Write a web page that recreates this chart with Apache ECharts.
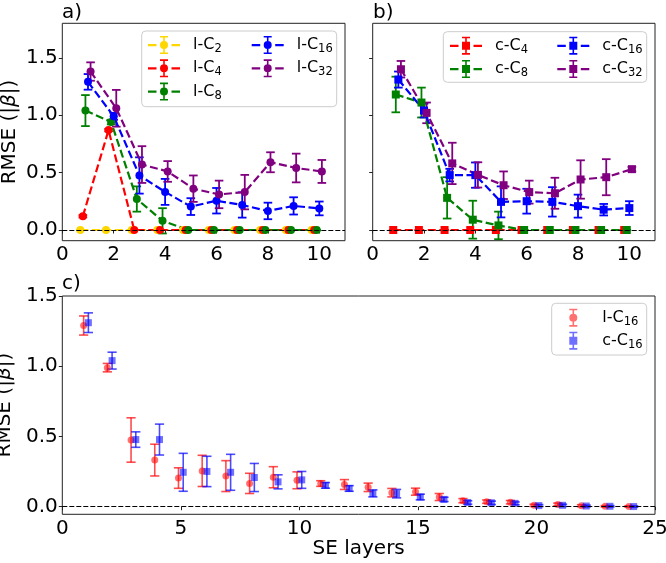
<!DOCTYPE html>
<html><head><meta charset="utf-8">
<script src="https://cdn.jsdelivr.net/npm/echarts@6/dist/echarts.min.js"></script>
<style>html,body{margin:0;padding:0;background:#fff}#c{width:666px;height:563px}</style>
</head><body><div id="c"></div>
<script>
// ---------- data ----------
const layers10 = [1, 2, 3, 4, 5, 6, 7, 8, 9, 10];
const layers24 = [1, 2, 3, 4, 5, 6, 7, 8, 9, 10, 11, 12, 13, 14, 15, 16, 17, 18, 19, 20, 21, 22, 23, 24];

const lC2    = [0, 0, 0, 0, 0, 0, 0, 0, 0, 0];
const lC2Err = [0, 0, 0, 0, 0, 0, 0, 0, 0, 0];
const lC4    = [0.12, 0.87, 0, 0, 0, 0, 0, 0, 0, 0];
const lC4Err = [0.01, 0.01, 0, 0, 0, 0, 0, 0, 0, 0];
const lC8    = [1.04, 0.94, 0.27, 0.08, 0, 0, 0, 0, 0, 0];
const lC8Err = [0.135, 0.02, 0.11, 0.11, 0, 0, 0, 0, 0, 0];
const lC16   = [1.29, 0.99, 0.475, 0.332, 0.204, 0.255, 0.218, 0.166, 0.21, 0.188, 0.165, 0.158, 0.138, 0.10, 0.107, 0.069, 0.043, 0.036, 0.032, 0.01, 0.016, 0.007, 0.003, 0.002];
const lC16Err= [0.068, 0.03, 0.158, 0.113, 0.073, 0.111, 0.11, 0.072, 0.075, 0.06, 0.02, 0.035, 0.03, 0.03, 0.025, 0.025, 0.015, 0.012, 0.012, 0.008, 0.01, 0.007, 0.005, 0.005];
const lC32   = [1.38, 1.06, 0.57, 0.51, 0.36, 0.31, 0.33, 0.59, 0.54, 0.51];
const lC32Err= [0.08, 0.16, 0.16, 0.09, 0.115, 0.12, 0.15, 0.087, 0.125, 0.1];

const cC4    = [0, 0, 0, 0, 0, 0, 0, 0, 0, 0];
const cC4Err = [0, 0, 0, 0, 0, 0, 0, 0, 0, 0];
const cC8    = [1.18, 1.11, 0.28, 0.09, 0.04, 0, 0, 0, 0, 0];
const cC8Err = [0.155, 0.13, 0.18, 0.165, 0.12, 0, 0, 0, 0, 0];
const cC16   = [1.31, 1.04, 0.478, 0.478, 0.245, 0.251, 0.245, 0.208, 0.177, 0.191, 0.152, 0.13, 0.095, 0.093, 0.069, 0.052, 0.03, 0.028, 0.024, 0.008, 0.01, 0.005, 0.003, 0.001];
const cC16Err= [0.07, 0.06, 0.055, 0.11, 0.135, 0.108, 0.128, 0.1, 0.05, 0.06, 0.02, 0.02, 0.025, 0.03, 0.02, 0.015, 0.012, 0.012, 0.01, 0.007, 0.008, 0.006, 0.005, 0.005];
const cC32   = [1.40, 1.02, 0.58, 0.48, 0.39, 0.33, 0.32, 0.44, 0.46, 0.53];
const cC32Err= [0.072, 0.09, 0.18, 0.11, 0.12, 0.1, 0.135, 0.167, 0.157, 0.02];

const xTicksTop = [0, 2, 4, 6, 8, 10];
const xTicksBottom = [0, 5, 10, 15, 20, 25];
const yTicks = [0, 0.5, 1.0, 1.5];

// ---------- helpers ----------
const FONT = 'DejaVu Sans';
function pts(xs, ys, es, off) { return xs.map((x, i) => [x + off, ys[i], es[i]]); }

function errRender(color, lw, capHalf) {
  return function (params, api) {
    const x = api.value(0), y = api.value(1), e = api.value(2);
    const hi = api.coord([x, y + e]), lo = api.coord([x, y - e]);
    const st = { stroke: color, lineWidth: lw, fill: null };
    return { type: 'group', children: [
      { type: 'line', shape: { x1: hi[0], y1: hi[1], x2: lo[0], y2: lo[1] }, style: st },
      { type: 'line', shape: { x1: hi[0] - capHalf, y1: hi[1], x2: hi[0] + capHalf, y2: hi[1] }, style: st },
      { type: 'line', shape: { x1: lo[0] - capHalf, y1: lo[1], x2: lo[0] + capHalf, y2: lo[1] }, style: st }
    ]};
  };
}

const corners = 'M0 0h0.01v0.01h-0.01Z M31.99 19.99h0.01v0.01h-0.01Z ';
const ebar = 'M15.2 1h1.6v18h-1.6Z M12 1h8v1.6h-8Z M12 17.4h8v1.6h-8Z ';
const dashes = 'M0 9h8.5v2.2h-8.5Z M23.5 9h8.5v2.2h-8.5Z ';
const circ = 'M12 10a4 4 0 1 1 8 0a4 4 0 1 1 -8 0Z ';
const sq = 'M12 6h8v8h-8Z ';
const iconLineCircle = 'path://' + corners + dashes + ebar + circ;
const iconLineSquare = 'path://' + corners + dashes + ebar + sq;
const iconCircle = 'path://' + corners + ebar + circ;
const iconSquare = 'path://' + corners + ebar + sq;

function legendFmt(name) {
  const m = name.match(/^([lc]-C)(\d+)/);
  return '{n|' + m[1] + '}{s|' + m[2] + '}';
}
const legendText = {
  fontFamily: FONT, color: '#000', fontSize: 16, lineHeight: 20,
  rich: {
    n: { fontFamily: FONT, fontSize: 16, color: '#000', padding: [0, 0, 0, 8] },
    s: { fontFamily: FONT, fontSize: 11.5, color: '#000', verticalAlign: 'bottom' }
  }
};
function mkLegend(left, top, data, gap) {
  return { show: true, left: left, top: top, orient: 'vertical', padding: 0, itemGap: gap,
    itemWidth: 32, itemHeight: 20, selectedMode: false, data: data,
    formatter: legendFmt, textStyle: legendText, itemStyle: { borderWidth: 0 } };
}

const tickStyle = { show: true, inside: false, length: 3.5, lineStyle: { color: '#222', width: 1 } };
function xAxisCfg(gi, max, ticks, name) {
  const a = { type: 'value', gridIndex: gi, min: 0, max: max,
    axisLine: { show: false }, splitLine: { show: false },
    axisTick: Object.assign({ customValues: ticks }, tickStyle),
    axisLabel: { customValues: ticks, margin: 4, fontSize: 20, fontFamily: FONT, color: '#000',
      formatter: v => String(Math.round(v)) } };
  if (name) {
    a.name = name; a.nameLocation = 'middle'; a.nameGap = 22.5;
    a.nameTextStyle = { fontSize: 20, fontFamily: FONT, color: '#000' };
  }
  return a;
}
function yAxisCfg(gi, min, max, showLabels) {
  const a = { type: 'value', gridIndex: gi, min: min, max: max,
    axisLine: { show: false }, splitLine: { show: false },
    axisTick: Object.assign({ customValues: yTicks }, tickStyle),
    axisLabel: { show: showLabels, customValues: yTicks, margin: 4.5, fontSize: 20, fontFamily: FONT, color: '#000',
      formatter: v => v.toFixed(1) } };
  if (showLabels) {
    a.name = 'RMSE (|{b|β}|)'; a.nameLocation = 'middle'; a.nameGap = 43;
    a.nameTextStyle = { fontSize: 20, fontFamily: FONT, color: '#000',
      rich: { b: { fontSize: 20, fontFamily: FONT, fontStyle: 'italic', color: '#000' } } };
  }
  return a;
}

const series = [];
function zeroLine(gi) {
  series.push({ type: 'line', xAxisIndex: gi, yAxisIndex: gi, data: [], silent: true, animation: false,
    markLine: { silent: true, animation: false, symbol: ['none', 'none'], label: { show: false },
      lineStyle: { color: '#000', width: 1, type: [5, 2] }, emphasis: { disabled: true },
      data: [{ yAxis: 0 }] } });
}
function addCurve(gi, spec, symbol) {
  const d = pts(layers10, spec.ys, spec.es, spec.off);
  series.push({ type: 'line', name: spec.name, xAxisIndex: gi, yAxisIndex: gi,
    data: d.map(p => [p[0], p[1]]), symbol: symbol, symbolSize: 8, showSymbol: true, showAllSymbol: true,
    lineStyle: { color: spec.color, width: 2.2, type: [8, 3.5] },
    itemStyle: { color: spec.color, borderWidth: 0 }, silent: true, animation: false,
    emphasis: { disabled: true } });
  series.push({ type: 'custom', xAxisIndex: gi, yAxisIndex: gi, data: d, silent: true, animation: false,
    encode: { x: 0, y: 1 }, renderItem: errRender(spec.color, 1.8, 4.3) });
}
function addScatter(gi, spec, symbol) {
  const d = pts(layers24, spec.ys, spec.es, spec.off);
  series.push({ type: 'scatter', name: spec.name, xAxisIndex: gi, yAxisIndex: gi,
    data: d.map(p => [p[0], p[1]]), symbol: symbol, symbolSize: 7,
    itemStyle: { color: spec.color, borderWidth: 0 }, silent: true, animation: false,
    emphasis: { disabled: true } });
  series.push({ type: 'custom', xAxisIndex: gi, yAxisIndex: gi, data: d, silent: true, animation: false,
    encode: { x: 0, y: 1 }, renderItem: errRender(spec.color, 1.6, 4.6) });
}

// panel a
zeroLine(0);
[
  { name: 'l-C2', color: '#FFD700', ys: lC2, es: lC2Err, off: -0.3 },
  { name: 'l-C4', color: '#FF0000', ys: lC4, es: lC4Err, off: -0.2 },
  { name: 'l-C8', color: '#008000', ys: lC8, es: lC8Err, off: -0.1 },
  { name: 'l-C16', color: '#0000FF', ys: lC16.slice(0, 10), es: lC16Err.slice(0, 10), off: 0 },
  { name: 'l-C32', color: '#800080', ys: lC32, es: lC32Err, off: 0.1 }
].forEach(s => addCurve(0, s, 'circle'));
// panel b
zeroLine(1);
[
  { name: 'c-C4', color: '#FF0000', ys: cC4, es: cC4Err, off: -0.2 },
  { name: 'c-C8', color: '#008000', ys: cC8, es: cC8Err, off: -0.1 },
  { name: 'c-C16', color: '#0000FF', ys: cC16.slice(0, 10), es: cC16Err.slice(0, 10), off: 0 },
  { name: 'c-C32', color: '#800080', ys: cC32, es: cC32Err, off: 0.1 }
].forEach(s => addCurve(1, s, 'rect'));
// panel c
zeroLine(2);
addScatter(2, { name: 'l-C16 (c)', color: 'rgba(255,0,0,0.7)', ys: lC16, es: lC16Err, off: -0.1 }, 'circle');
addScatter(2, { name: 'c-C16 (c)', color: 'rgba(0,0,255,0.7)', ys: cC16, es: cC16Err, off: 0.1 }, 'rect');

const frame = { show: true, borderColor: '#222', borderWidth: 1, backgroundColor: 'transparent',
  containLabel: false, outerBoundsMode: 'none' };
const option = {
  animation: false,
  textStyle: { fontFamily: FONT },
  title: [
    { text: 'a)', left: 62, top: 2.6, padding: 0, textStyle: { fontSize: 20, fontWeight: 'normal', fontFamily: FONT, color: '#000' } },
    { text: 'b)', left: 373, top: 2.6, padding: 0, textStyle: { fontSize: 20, fontWeight: 'normal', fontFamily: FONT, color: '#000' } },
    { text: 'c)', left: 62, top: 274.2, padding: 0, textStyle: { fontSize: 20, fontWeight: 'normal', fontFamily: FONT, color: '#000' } }
  ],
  grid: [
    Object.assign({ left: 62.3, top: 23.3, width: 282.7, height: 217.4 }, frame),
    Object.assign({ left: 372.7, top: 23.3, width: 282.3, height: 217.4 }, frame),
    Object.assign({ left: 62.3, top: 296, width: 592.7, height: 218.3 }, frame)
  ],
  xAxis: [xAxisCfg(0, 11, xTicksTop), xAxisCfg(1, 11, xTicksTop), xAxisCfg(2, 25, xTicksBottom, 'SE layers')],
  yAxis: [yAxisCfg(0, -0.093, 1.8, true), yAxisCfg(1, -0.093, 1.8, false), yAxisCfg(2, -0.054, 1.5, true)],
  legend: [
    mkLegend(148, 35, [{ name: 'l-C2', icon: iconLineCircle }, { name: 'l-C4', icon: iconLineCircle }, { name: 'l-C8', icon: iconLineCircle }], 3.3),
    mkLegend(251.7, 35, [{ name: 'l-C16', icon: iconLineCircle }, { name: 'l-C32', icon: iconLineCircle }], 3.3),
    mkLegend(450, 35.7, [{ name: 'c-C4', icon: iconLineSquare }, { name: 'c-C8', icon: iconLineSquare }], 3.3),
    mkLegend(557.3, 35.7, [{ name: 'c-C16', icon: iconLineSquare }, { name: 'c-C32', icon: iconLineSquare }], 3.3),
    mkLegend(557.3, 307.7, [{ name: 'l-C16 (c)', icon: iconCircle }, { name: 'c-C16 (c)', icon: iconSquare }], 3)
  ],
  graphic: [
    { type: 'rect', z: 3, silent: true, shape: { x: 141.7, y: 31, width: 195, height: 75.7, r: 4 }, style: { fill: 'rgba(255,255,255,0.8)', stroke: '#cccccc', lineWidth: 1 } },
    { type: 'rect', z: 3, silent: true, shape: { x: 443.3, y: 31.7, width: 203.4, height: 50.6, r: 4 }, style: { fill: 'rgba(255,255,255,0.8)', stroke: '#cccccc', lineWidth: 1 } },
    { type: 'rect', z: 3, silent: true, shape: { x: 551.7, y: 303.3, width: 95, height: 51.7, r: 4 }, style: { fill: 'rgba(255,255,255,0.8)', stroke: '#cccccc', lineWidth: 1 } }
  ],
  series: series
};
const chart = echarts.init(document.getElementById('c'), null, { renderer: 'canvas' });
chart.setOption(option);
</script>
</body></html>
